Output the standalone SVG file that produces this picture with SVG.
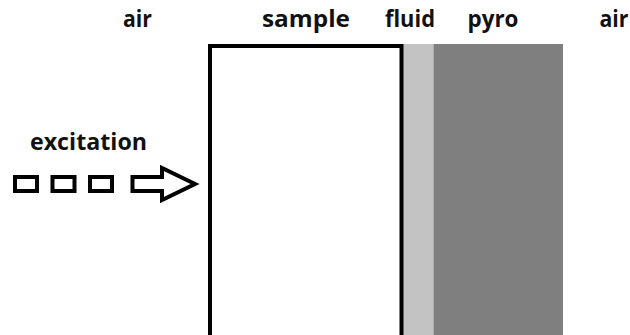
<svg xmlns="http://www.w3.org/2000/svg" width="630" height="335" viewBox="0 0 630 335">
  <style>
    .lbl { font-family: "Open Sans", "Liberation Sans", sans-serif; font-weight: 700; font-size: 23px; fill: #111111; text-anchor: middle; }
    .outline { fill: #ffffff; stroke: #000000; stroke-width: 4; }
  </style>
  <rect width="630" height="335" fill="#ffffff"/>

  <!-- layer stack -->
  <g id="fluid">
    <rect x="403" y="44" width="30.5" height="295" fill="#c3c3c3"/>
  </g>
  <g id="pyro">
    <rect x="433.5" y="44" width="129.5" height="295" fill="#7f7f7f"/>
  </g>
  <g id="sample">
    <rect class="outline" x="210" y="46" width="191.5" height="300"/>
  </g>

  <!-- region labels -->
  <g id="labels">
    <text class="lbl" x="137.5" y="27" textLength="29" lengthAdjust="spacingAndGlyphs">air</text>
    <text class="lbl" x="306" y="27" textLength="88" lengthAdjust="spacingAndGlyphs">sample</text>
    <text class="lbl" x="410" y="27" textLength="50" lengthAdjust="spacingAndGlyphs">fluid</text>
    <text class="lbl" x="493" y="27" textLength="51" lengthAdjust="spacingAndGlyphs">pyro</text>
    <text class="lbl" x="614" y="27" textLength="29" lengthAdjust="spacingAndGlyphs">air</text>
    <text class="lbl" x="88.5" y="150" textLength="117" lengthAdjust="spacingAndGlyphs">excitation</text>
  </g>

  <!-- excitation pulses and arrow -->
  <g id="connectors">
    <rect class="outline" x="15" y="177" width="22" height="14"/>
    <rect class="outline" x="52.5" y="177" width="22" height="14"/>
    <rect class="outline" x="90" y="177" width="22" height="14"/>
    <polygon class="outline" stroke-linejoin="miter" points="132.5,177 162,177 162,168 195,184 162,200 162,191 132.5,191"/>
  </g>
</svg>
